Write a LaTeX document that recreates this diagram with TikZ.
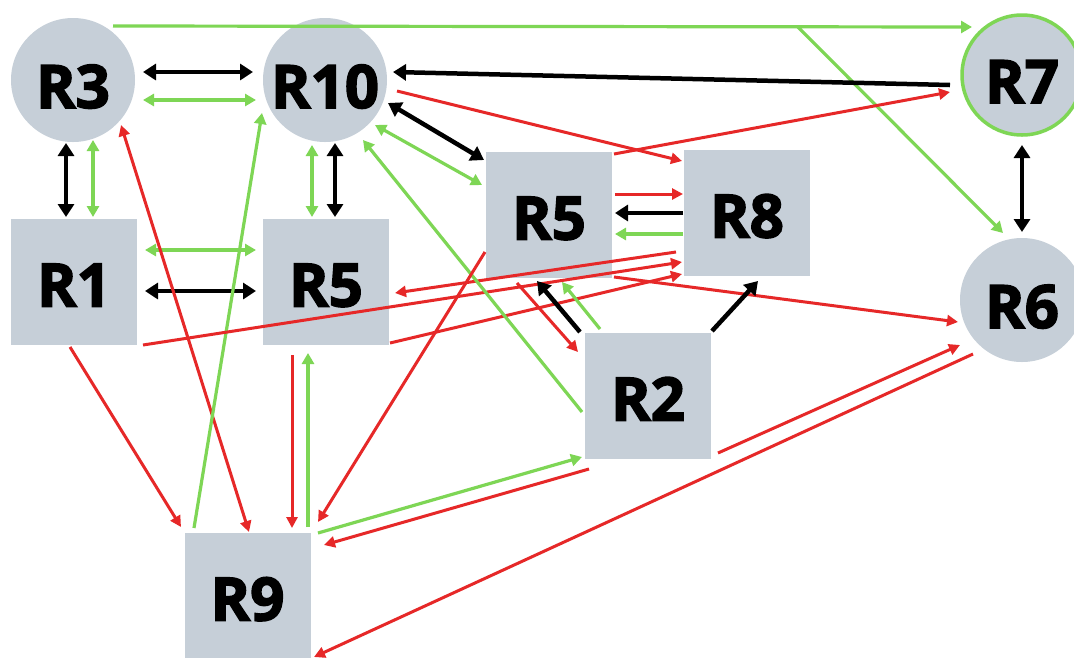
\documentclass[tikz,border=0pt]{standalone}
\usepackage{fontspec}
\setmainfont{Open Sans}[BoldFeatures={FakeBold=2.5}]
\usetikzlibrary{arrows.meta}
\definecolor{nodegray}{RGB}{198,207,216}
\definecolor{lgreen}{RGB}{126,214,85}
\definecolor{lred}{RGB}{230,40,40}
\tikzset{
  base/.style={fill=nodegray, inner sep=0pt, font=\fontsize{60}{60}\selectfont\bfseries, text depth=0pt},
  boxnode/.style={base, rectangle, minimum width=126pt, minimum height=126pt, text height=49pt},
  circnode/.style={base, circle, minimum size=124pt, text height=56pt},
  blk/.style={black, line width=4.5pt, -{Triangle[length=13pt,width=16pt]}},
  blkd/.style={black, line width=4.5pt, {Triangle[length=13pt,width=16pt]}-{Triangle[length=13pt,width=16pt]}},
  grn/.style={lgreen, line width=3.2pt, -{Triangle[length=11pt,width=12pt]}},
  grnd/.style={lgreen, line width=3.2pt, {Triangle[length=11pt,width=12pt]}-{Triangle[length=11pt,width=12pt]}},
  rd/.style={lred, line width=3pt, -{Triangle[length=11pt,width=11pt]}},
  rdd/.style={lred, line width=3pt, {Triangle[length=11pt,width=11pt]}-{Triangle[length=11pt,width=11pt]}},
}
\begin{document}
\begin{tikzpicture}[x=1pt,y=-1pt]
\useasboundingbox[fill=white] (0,0) rectangle (1074,657);
% nodes
\node[circnode] (R3) at (73,80) {R3};
\node[circnode] (R10) at (325,80) {R10};
\node[circnode, draw=lgreen, line width=3.5pt, minimum size=120pt] (R7) at (1022,75) {R7};
\node[circnode] (R6) at (1022,300) {R6};
\node[boxnode] (R1) at (74,282) {R1};
\node[boxnode] (R5a) at (326,282) {R5};
\node[boxnode] (R5b) at (549,215) {R5};
\node[boxnode] (R8) at (747,213) {R8};
\node[boxnode] (R2) at (648,396) {R2};
\node[boxnode] (R9) at (247.5,596) {R9};
% top green lines
\coordinate (gbend) at ([shift={(-224,-48)}]R7.center);
\draw[grn] ([shift={(40,-54)}]R3.center) -- ([shift={(-50,-48)}]R7.center);
\draw[grn] (gbend) -- ([shift={(-19,-67)}]R6.center);
% R3 - R10
\draw[blkd] ([shift={(70,-8)}]R3.center) -- ([shift={(-72,-8)}]R10.center);
\draw[grnd] ([shift={(70,20)}]R3.center) -- ([shift={(-69,20)}]R10.center);
% R3 - R1
\draw[blkd] ([shift={(-7,63)}]R3.center) -- ([shift={(-8,-65)}]R1.center);
\draw[grnd] ([shift={(20,60)}]R3.center) -- ([shift={(19,-65)}]R1.center);
% R10 - R5a
\draw[grnd] ([shift={(-13,65)}]R10.center) -- ([shift={(-14,-65)}]R5a.center);
\draw[blkd] ([shift={(10,63)}]R10.center) -- ([shift={(9,-65)}]R5a.center);
% R1 - R5a
\draw[grnd] ([shift={(71,-32)}]R1.center) -- ([shift={(-70,-32)}]R5a.center);
\draw[blkd] ([shift={(71,9)}]R1.center) -- ([shift={(-70,9)}]R5a.center);
% R3 - R9
\draw[rdd] ([shift={(48,45)}]R3.center) -- ([shift={(1.5,-64)}]R9.center);
% R9 -> R10
\draw[grn] ([shift={(-53.5,-68)}]R9.center) -- ([shift={(-63,33)}]R10.center);
% R1 -> R9
\draw[rd] ([shift={(-4,65)}]R1.center) -- ([shift={(-66.5,-69)}]R9.center);
% R1 -> R8, R5a -> R8, R8 -> R5a
\draw[rd] ([shift={(69,63)}]R1.center) -- ([shift={(-65,49)}]R8.center);
\draw[rd] ([shift={(64,61)}]R5a.center) -- ([shift={(-65,61)}]R8.center);
\draw[rd] ([shift={(-71,39)}]R8.center) -- ([shift={(69,11)}]R5a.center);
% R10 -> R8
\draw[rd] ([shift={(72,11)}]R10.center) -- ([shift={(-65,-52)}]R8.center);
% R5b -> R7
\draw[rd] ([shift={(65,-61)}]R5b.center) -- ([shift={(-72,17)}]R7.center);
% R7 -> R10
\draw[blk] ([shift={(-72,10)}]R7.center) -- ([shift={(68,-8)}]R10.center);
% R10 - R5b
\draw[blkd] ([shift={(63,23)}]R10.center) -- ([shift={(-65,-55)}]R5b.center);
\draw[grnd] ([shift={(50,45)}]R10.center) -- ([shift={(-67,-30)}]R5b.center);
% R2 -> R10
\draw[grn] ([shift={(-66,16)}]R2.center) -- ([shift={(38,60)}]R10.center);
% R5b -> R9
\draw[rd] ([shift={(-64,37)}]R5b.center) -- ([shift={(70.5,-74)}]R9.center);
% R5a - R9
\draw[rd] ([shift={(-34,73)}]R5a.center) -- ([shift={(44.5,-68)}]R9.center);
\draw[grn] ([shift={(60.5,-69)}]R9.center) -- ([shift={(-18,71)}]R5a.center);
% R9 - R2
\draw[grn] ([shift={(70.5,-63)}]R9.center) -- ([shift={(-66,61)}]R2.center);
\draw[rd] ([shift={(-59,73)}]R2.center) -- ([shift={(76.5,-51)}]R9.center);
% R6 -> R9
\draw[rd] ([shift={(-49,54)}]R6.center) -- ([shift={(66.5,61)}]R9.center);
% R2 -> R6
\draw[rd] ([shift={(70,57)}]R2.center) -- ([shift={(-62,45)}]R6.center);
% R5b -> R6
\draw[rd] ([shift={(65,62)}]R5b.center) -- ([shift={(-64,22)}]R6.center);
% R5b - R2
\draw[rd] ([shift={(-32,68)}]R5b.center) -- ([shift={(-70,-44)}]R2.center);
\draw[blk] ([shift={(-68,-64)}]R2.center) -- ([shift={(-12,66)}]R5b.center);
\draw[grn] ([shift={(-48,-67)}]R2.center) -- ([shift={(13,67)}]R5b.center);
% R2 -> R8
\draw[blk] ([shift={(64,-65)}]R2.center) -- ([shift={(11,68)}]R8.center);
% R5b - R8
\draw[rd] ([shift={(66,-21)}]R5b.center) -- ([shift={(-64,-19)}]R8.center);
\draw[blk] ([shift={(-64,0)}]R8.center) -- ([shift={(66,-2)}]R5b.center);
\draw[grn] ([shift={(-64,21)}]R8.center) -- ([shift={(66,19)}]R5b.center);
% R7 - R6
\draw[blkd] ([shift={(0,70)}]R7.center) -- ([shift={(0,-68)}]R6.center);
\end{tikzpicture}
\end{document}
